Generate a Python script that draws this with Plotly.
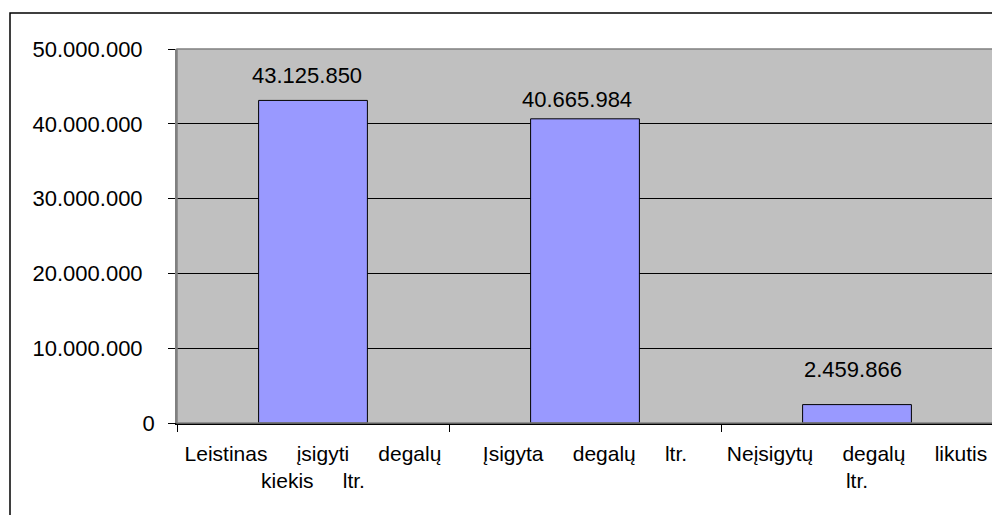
import plotly.graph_objects as go

NB = "\u00a0"
SP = NB * 5
categories = ["Leistinas įsigyti degalų kiekis ltr.", "Įsigyta degalų ltr.", "Neįsigytų degalų likutis ltr."]
tick_labels = [
    "Leistinas" + SP + "įsigyti" + SP + "degalų<br>kiekis" + SP + "ltr.",
    "Įsigyta" + SP + "degalų" + SP + "ltr.",
    "Neįsigytų" + SP + "degalų" + SP + "likutis<br>ltr.",
]
values = [43125850, 40665984, 2459866]
y_ticks = [0, 10000000, 20000000, 30000000, 40000000, 50000000]

# label placement tweaks (style only)
label_xshift = [-6, -8, -4]
label_yshift = [10, 5, 21]

FONT = "Liberation Sans, Arial, sans-serif"


def fmt(v):
    return f"{v:,}".replace(",", ".")


y_ticktext = [fmt(t) + ("" if t == 0 else NB * 2) for t in y_ticks]

fig = go.Figure()
fig.add_trace(go.Bar(
    x=categories, y=values,
    marker=dict(color="#9999FF", line=dict(color="black", width=1)),
    width=0.4,
))

for c, v, dx, dy in zip(categories, values, label_xshift, label_yshift):
    fig.add_annotation(
        x=c, y=v, text=fmt(v),
        showarrow=False, yanchor="bottom", xshift=dx, yshift=dy,
        font=dict(family=FONT, size=22, color="black"),
    )

# plot-area border
fig.add_shape(type="rect", xref="paper", yref="paper", x0=0, x1=1, y0=0, y1=1,
              line=dict(color="#808080", width=1.5), layer="above")
# outer chart border
fig.add_shape(type="rect", xref="paper", yref="paper",
              x0=(2 - 169) / 816, x1=(1010 - 169) / 816,
              y0=-(530 - 415) / 374, y1=1 + (41 - 5) / 374,
              line=dict(color="black", width=1.5))

fig.update_layout(
    width=992, height=507,
    margin=dict(l=169, r=7, t=41, b=92),
    paper_bgcolor="white", plot_bgcolor="#C0C0C0",
    showlegend=False,
    font=dict(family=FONT, size=21, color="black"),
    xaxis=dict(
        tickmode="array", tickvals=categories, ticktext=tick_labels,
        tickson="boundaries", ticks="outside", ticklen=7, tickcolor="black",
        showline=True, linecolor="black", linewidth=1.5,
        showgrid=False, ticklabelstandoff=11,
        tickfont=dict(family=FONT, size=21),
    ),
    yaxis=dict(
        range=[0, 50000000], tickmode="array", tickvals=y_ticks, ticktext=y_ticktext,
        ticks="outside", ticklen=7, tickcolor="black",
        showgrid=True, gridcolor="black", gridwidth=1,
        showline=True, linecolor="#808080", linewidth=1.5,
        zeroline=False, ticklabelstandoff=9,
        tickfont=dict(family=FONT, size=22),
    ),
)

fig.write_html("out.html")
